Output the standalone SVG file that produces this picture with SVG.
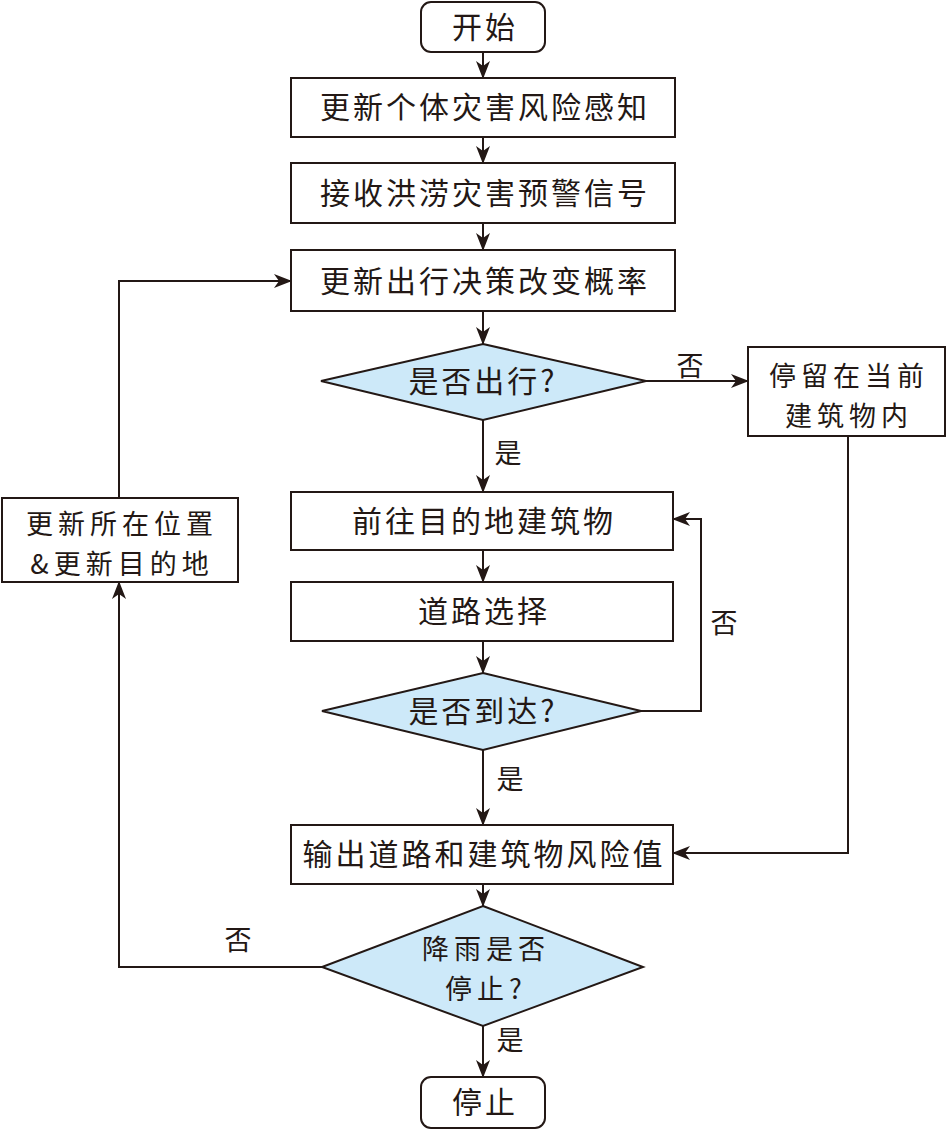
<svg xmlns="http://www.w3.org/2000/svg" width="947" height="1130" viewBox="0 0 947 1130">
<defs>
<marker id="arr" viewBox="0 0 18 14" refX="17" refY="7" markerWidth="18" markerHeight="14" markerUnits="userSpaceOnUse" orient="auto">
<path d="M0,0 L18,7 L0,14 L5,7 Z" fill="#231815"/>
</marker>
<style>
.box{fill:#fff;stroke:#231815;stroke-width:2}
.dia{fill:#cde9f9;stroke:#231815;stroke-width:2}
.t{font-family:"Noto Sans CJK SC","Noto Sans CJK JP",sans-serif;font-size:30px;fill:#231815;text-anchor:middle;letter-spacing:3px}
.t2{font-family:"Noto Sans CJK SC","Noto Sans CJK JP",sans-serif;font-size:27px;fill:#231815;text-anchor:middle;letter-spacing:5px}
.l{font-family:"Noto Sans CJK SC","Noto Sans CJK JP",sans-serif;font-size:27px;fill:#231815;text-anchor:middle}
.c{fill:none;stroke:#231815;stroke-width:2}
</style>
</defs>
<rect width="947" height="1130" fill="#fff"/>
<g id="connectors">
<path class="c" d="M483,52 V78" marker-end="url(#arr)"/>
<path class="c" d="M483,137 V163" marker-end="url(#arr)"/>
<path class="c" d="M483,223 V250" marker-end="url(#arr)"/>
<path class="c" d="M483,311 V344" marker-end="url(#arr)"/>
<path class="c" d="M646,381 H748" marker-end="url(#arr)"/>
<path class="c" d="M483,420 V492" marker-end="url(#arr)"/>
<path class="c" d="M483,550 V582" marker-end="url(#arr)"/>
<path class="c" d="M483,641 V673" marker-end="url(#arr)"/>
<path class="c" d="M641,711 H701 V519 H673" marker-end="url(#arr)"/>
<path class="c" d="M483,750 V825" marker-end="url(#arr)"/>
<path class="c" d="M848,436 V853 H673" marker-end="url(#arr)"/>
<path class="c" d="M483,884 V906" marker-end="url(#arr)"/>
<path class="c" d="M483,1026 V1077" marker-end="url(#arr)"/>
<path class="c" d="M322,967 H119 V582" marker-end="url(#arr)"/>
<path class="c" d="M119,497 V281 H291" marker-end="url(#arr)"/>
<text class="l" x="690" y="376">否</text>
<text class="l" x="508" y="463">是</text>
<text class="l" x="724" y="633">否</text>
<text class="l" x="510" y="789">是</text>
<text class="l" x="238" y="950">否</text>
<text class="l" x="510" y="1050">是</text>
</g>
<g id="start"><rect class="box" x="421" y="2" width="124" height="50" rx="10"/><text class="t" x="485" y="38">开始</text></g>
<g id="n1"><rect class="box" x="291" y="78" width="384" height="59"/><text class="t" x="485" y="118">更新个体灾害风险感知</text></g>
<g id="n2"><rect class="box" x="291" y="163" width="384" height="60"/><text class="t" x="485" y="204">接收洪涝灾害预警信号</text></g>
<g id="n3"><rect class="box" x="291" y="250" width="384" height="61"/><text class="t" x="485" y="292">更新出行决策改变概率</text></g>
<g id="d1"><polygon class="dia" points="483,344 646,381 483,420 321,381"/><text class="t" x="483" y="392">是否出行?</text></g>
<g id="stay"><rect class="box" x="748" y="347" width="197" height="89"/><text class="t2" x="849" y="386">停留在当前</text><text class="t2" x="849" y="426">建筑物内</text></g>
<g id="n4"><rect class="box" x="291" y="492" width="382" height="58"/><text class="t" x="484" y="532">前往目的地建筑物</text></g>
<g id="n5"><rect class="box" x="291" y="582" width="382" height="59"/><text class="t" x="484" y="622">道路选择</text></g>
<g id="d2"><polygon class="dia" points="483,673 641,711 483,750 322,711"/><text class="t" x="483" y="722">是否到达?</text></g>
<g id="n6"><rect class="box" x="291" y="825" width="382" height="59"/><text class="t" x="484" y="865">输出道路和建筑物风险值</text></g>
<g id="d3"><polygon class="dia" points="483,906 643,967 483,1026 322,967"/><text class="t2" x="486" y="959">降雨是否</text><text class="t2" x="486" y="999">停止?</text></g>
<g id="upd"><rect class="box" x="2" y="498" width="236" height="84"/><text class="t2" x="122" y="534">更新所在位置</text><text class="t2" x="122" y="574">&amp;更新目的地</text></g>
<g id="stop"><rect class="box" x="421" y="1077" width="124" height="51" rx="10"/><text class="t" x="485" y="1113">停止</text></g>
</svg>
